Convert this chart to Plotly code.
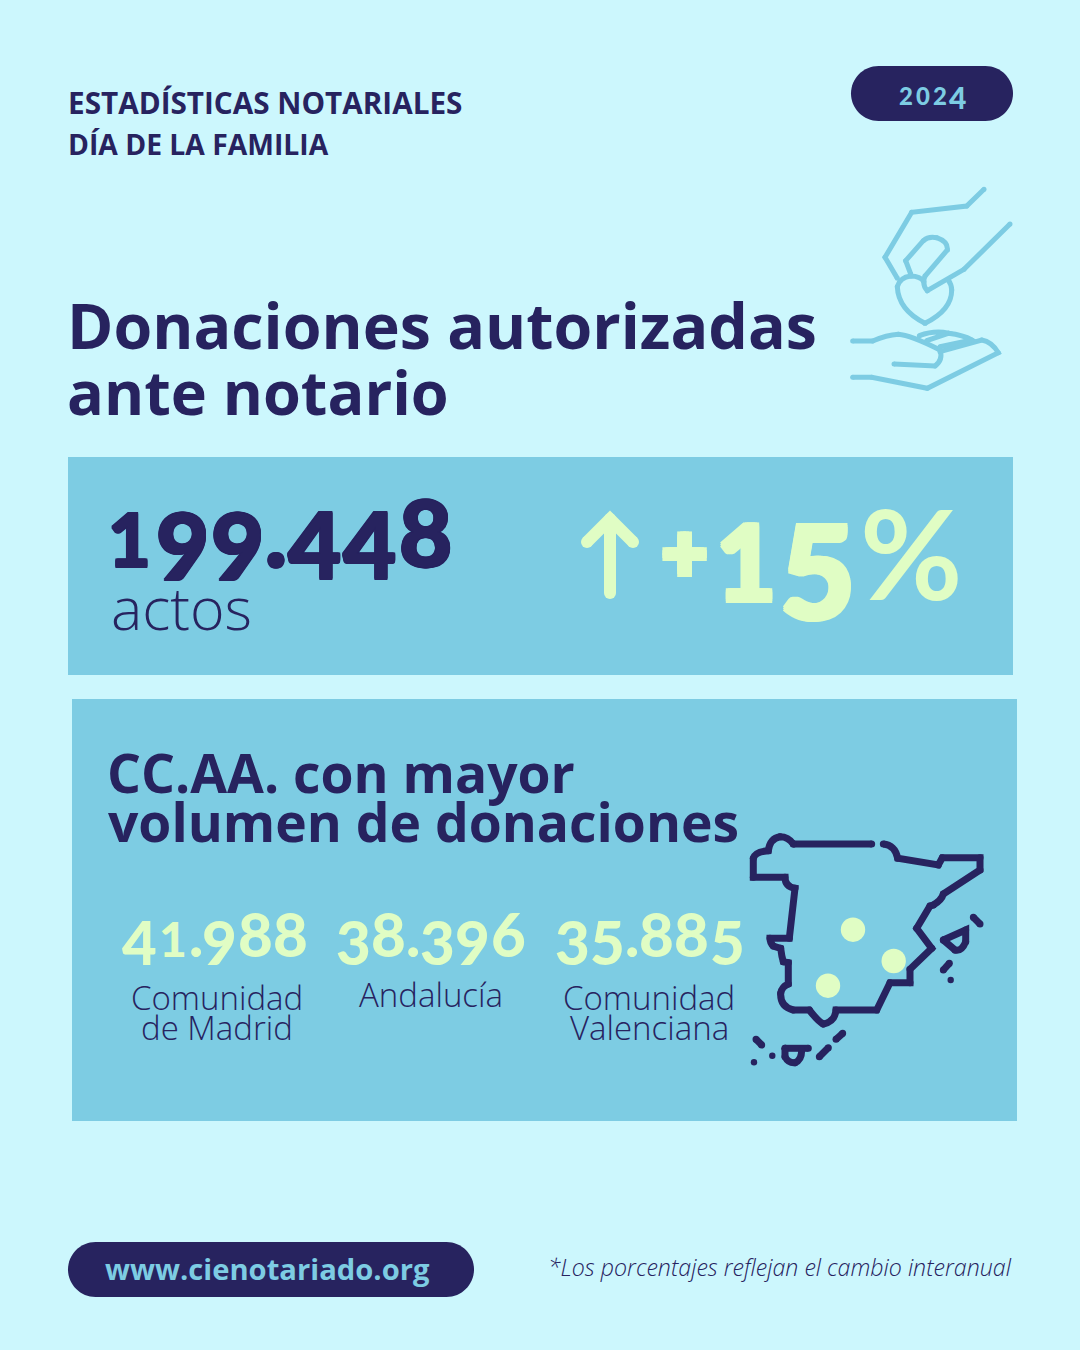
import plotly.graph_objects as go

# colours
BG = "#CCF7FD"
BOX = "#7DCCE3"
NAVY = "#27235F"
PALE = "#E0FDC4"

# data
total_actos = "199.448"
variacion = "15"
ccaa_valores = ["41.988", "38.396", "35.885"]
ccaa_nombres = ["Comunidad<br>de Madrid", "Andalucía", "Comunidad<br>Valenciana"]
anio = "2024"

# raleway style old numerals: digit -> (scale, baseline shift in em, advance in em)
OLD = {
    "0": (0.8, 0.0, 0.56), "1": (0.8, 0.0, 0.52), "2": (0.8, 0.0, 0.56),
    "3": (1, 0.14, 0.58), "4": (1, 0.13, 0.58), "5": (1, 0.14, 0.58),
    "6": (1, 0.0, 0.58), "7": (1, 0.14, 0.58), "8": (1, 0.0, 0.58),
    "9": (1, 0.14, 0.58), ".": (1, 0.0, 0.21),
}

fig = go.Figure()
fig.update_layout(
    width=1080, height=1350, margin=dict(l=0, r=0, t=0, b=0),
    paper_bgcolor=BG, plot_bgcolor=BG, showlegend=False,
    xaxis=dict(range=[0, 1080], visible=False, fixedrange=True),
    yaxis=dict(range=[1350, 0], visible=False, fixedrange=True),
)
# needs a trace so the axes exist
fig.add_trace(go.Scatter(x=[0], y=[0], mode="markers", marker=dict(opacity=0), hoverinfo="skip"))


def heavy(color, px):
    # fake a heavier cut than the installed fonts have
    if not px:
        return "none"
    return ",".join(f"{dx}px {dy}px 0 {color}" for dx, dy in
                    [(px, 0), (-px, 0), (0, px), (0, -px), (px, px), (-px, -px), (px, -px), (-px, px)])


def text(s, x, base, size, color=NAVY, weight=400, anchor="left", family="Open Sans", style="normal"):
    # y given as baseline, font box centre sits 0.388em above it
    fig.add_annotation(
        x=x, y=base - 0.388 * size, text=s, showarrow=False, xanchor=anchor, yanchor="middle",
        font=dict(family=family, size=size, color=color, weight=weight, style=style),
        xref="x", yref="y", borderpad=0, align=anchor if anchor != "middle" else "center",
    )


def numerals(s, x, base, size, color, weight=900, px=0, track=0):
    for ch in s:
        scale, shift, adv = OLD[ch]
        fig.add_annotation(
            x=x + adv * size / 2, y=base + shift * size - 0.387 * size * scale, text=ch, showarrow=False,
            xanchor="center", yanchor="middle", borderpad=0,
            font=dict(family="Lato", size=size * scale, color=color, weight=weight, shadow=heavy(color, px)),
        )
        x += adv * size + track


def box(x0, y0, x1, y1, color):
    fig.add_shape(type="rect", x0=x0, y0=y0, x1=x1, y1=y1, fillcolor=color, line_width=0, layer="below")


def pill(x0, y0, x1, y1, color):
    r = (y1 - y0) / 2
    k = r * 0.45
    p = (f"M{x0+r},{y0} L{x1-r},{y0} C{x1-k},{y0} {x1},{y0+k} {x1},{y0+r} C{x1},{y1-k} {x1-k},{y1} {x1-r},{y1} "
         f"L{x0+r},{y1} C{x0+k},{y1} {x0},{y1-k} {x0},{y0+r} C{x0},{y0+k} {x0+k},{y0} {x0+r},{y0} Z")
    fig.add_shape(type="path", path=p, fillcolor=color, line_width=0, layer="below")


def dot(cx, cy, r, col):
    fig.add_shape(type="circle", x0=cx - r, x1=cx + r, y0=cy - r, y1=cy + r, fillcolor=col, line_width=0)


def icon(cmds, ox, oy, sx, sy, color, width):
    # cmds: list of (letter, points...) in crop pixels, scaled back to page
    out = []
    for c in cmds:
        pts = [(ox + px / sx, oy + py / sy) for px, py in c[1:]]
        out.append(c[0] + " ".join(f"{a:.1f},{b:.1f}" for a, b in pts))
        # no round caps or joins on shapes, so put a dot on each vertex
        dot(pts[-1][0], pts[-1][1], width / 2, color)
    fig.add_shape(type="path", path=" ".join(out), line=dict(color=color, width=width), fillcolor="rgba(0,0,0,0)")


box(68, 457, 1013, 675, BOX)
box(72, 699, 1017, 1121, BOX)
pill(851, 66, 1013, 121, NAVY)
pill(68, 1242, 474, 1297, NAVY)

# header
text("ESTADÍSTICAS NOTARIALES", 67, 114, 29.7, weight=700)
text("DÍA DE LA FAMILIA", 67, 155, 28.3, weight=700)
numerals(anio, 898, 105, 30, BOX, weight=900)

# title
text("Donaciones autorizadas", 66, 349, 62.7, weight=700)
text("ante notario", 66, 415, 61.2, weight=700)

# total
numerals(total_actos, 106, 567, 92, NAVY, px=1, track=2)
text("actos", 110, 630, 59, weight=300)

M, L, Q = "M", "L", "Q"

# arrow
icon([(M, (610, 593)), (L, (610, 520))], 0, 0, 1, 1, PALE, 12)
icon([(M, (587, 542)), (L, (610, 519)), (L, (633, 542))], 0, 0, 1, 1, PALE, 12)

# +15%
fig.add_annotation(x=684.5, y=551, text="+", showarrow=False, xanchor="center", yanchor="middle",
                   font=dict(family="Lato", size=78, color=PALE, weight=900, shadow=heavy(PALE, 3)))
numerals(variacion, 712, 601, 130, PALE, px=2)
fig.add_annotation(x=911, y=552, text="%", showarrow=False, xanchor="center", yanchor="middle",
                   font=dict(family="Lato", size=125, color=PALE, weight=700))

# ccaa
text("CC.AA. con mayor", 106, 793, 53.4, weight=700)
text("volumen de donaciones", 107, 842, 53.4, weight=700)
for val, nombre, x0, xc, base in zip(ccaa_valores, ccaa_nombres, [122, 336, 555], [217, 431, 649], [1010, 1007, 1010]):
    numerals(val, x0, 957, 60, PALE, weight=900, track=0.6)
    for i, linea in enumerate(nombre.split("<br>")):
        text(linea, xc, base + i * 30, 33, weight=300, anchor="center")

# footer
text("www.cienotariado.org", 104, 1280, 29.2, color=BOX, weight=700)
text("*Los porcentajes reflejan el cambio interanual", 1013, 1276, 23.2, weight=300, anchor="right", style="italic")

# hand icon
for cmds in [
    [(M, (432, 58)), (L, (380, 108)), (L, (215, 127)), (L, (135, 262)), (L, (172, 325))],
    [(M, (510, 162)), (L, (372, 298)), (L, (262, 362)), (Q, (245, 345), (255, 318)), (L, (322, 240)),
     (Q, (325, 215), (290, 203)), (Q, (265, 198), (250, 212)), (L, (197, 272)), (L, (212, 312))],
    [(M, (255, 460)), (Q, (175, 420), (172, 350)), (Q, (180, 322), (212, 318)), (Q, (240, 318), (252, 335))],
    [(M, (255, 460)), (Q, (335, 420), (335, 360)), (Q, (335, 345), (325, 330))],
    [(M, (38, 513)), (L, (98, 513)), (Q, (140, 495), (175, 493)), (Q, (210, 495), (300, 540)),
     (Q, (310, 570), (285, 588)), (L, (162, 582))],
    [(M, (38, 622)), (L, (95, 622)), (L, (262, 655)), (L, (475, 548)), (Q, (455, 515), (425, 510)), (L, (300, 545))],
    [(M, (238, 497)), (Q, (285, 480), (325, 490)), (L, (260, 512))],
    [(M, (325, 490)), (Q, (370, 495), (395, 510)), (L, (300, 530))],
]:
    icon(cmds, 840, 170, 3, 3, BOX, 5)

# map of spain
for cmds in [
    [(M, (190, 72)), (L, (425, 72))],
    [(M, (460, 72)), (Q, (495, 75), (503, 115)), (L, (625, 135)), (L, (637, 113)), (L, (750, 113)), (L, (750, 150)),
     (L, (640, 222)), (Q, (635, 240), (610, 255)), (L, (600, 258)), (L, (560, 325)), (L, (605, 385)), (L, (540, 448)),
     (L, (540, 488)), (L, (480, 488)), (L, (440, 570)), (L, (318, 570)), (Q, (315, 605), (280, 612)),
     (Q, (265, 605), (238, 570)), (L, (190, 570)), (Q, (150, 560), (152, 520)), (Q, (155, 500), (175, 492)),
     (L, (175, 428)), (L, (160, 425)), (Q, (155, 410), (152, 385)), (L, (130, 378)), (Q, (120, 370), (120, 355)),
     (L, (178, 355)), (L, (195, 205)), (Q, (165, 200), (165, 172)), (L, (70, 172)), (L, (70, 115)),
     (Q, (75, 95), (115, 92)), (Q, (120, 55), (150, 50)), (Q, (175, 50), (190, 72))],
    [(M, (730, 292)), (L, (750, 312))],
    [(M, (640, 360)), (L, (707, 330)), (L, (707, 365)), (Q, (695, 395), (675, 390)), (L, (640, 360))],
    [(M, (640, 450)), (L, (658, 430))],
    [(M, (78, 658)), (L, (95, 675))],
    [(M, (165, 685)), (L, (235, 685))],
    [(M, (165, 685)), (L, (165, 710)), (Q, (175, 730), (195, 728)), (Q, (215, 720), (215, 690))],
    [(M, (268, 710)), (L, (295, 683))],
    [(M, (318, 658)), (L, (338, 640))],
]:
    icon(cmds, 730, 820, 3, 3, NAVY, 7)

# small island dots and region dots
for cx, cy, r, col in [(950.7, 980, 3.2, NAVY), (772.3, 1055.7, 3.2, NAVY), (754, 1062.3, 3.2, NAVY),
                       (853, 929.7, 12.2, PALE), (893.7, 961, 12.2, PALE), (828, 985.7, 12.2, PALE)]:
    dot(cx, cy, r, col)

# page margin would otherwise push the figure off by 8px
fig.write_html("out.html", config={"displayModeBar": False},
               post_script="document.body.style.margin='0';window.dispatchEvent(new Event('resize'));")
